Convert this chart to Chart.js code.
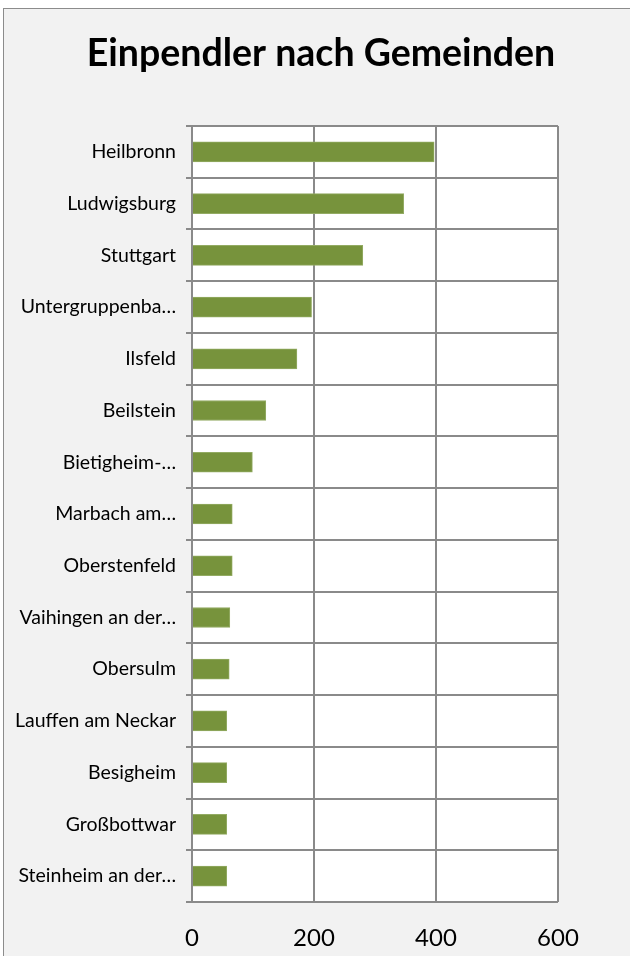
<!DOCTYPE html>
<html>
<head>
<meta charset="utf-8">
<script src="https://cdn.jsdelivr.net/npm/chart.js@4"></script>
<style>
  html, body { margin: 0; padding: 0; background: #ffffff; }
  #frame {
    position: absolute; left: 3px; top: 8px; width: 640px; height: 960px;
    background: #f2f2f2; border: 1.5px solid #8c8c8c; box-sizing: border-box;
  }
  #wrap { position: absolute; left: 0; top: 0; width: 630px; height: 956px; }
</style>
</head>
<body>
<div id="frame"></div>
<div id="wrap"><canvas id="pendlerChart"></canvas></div>
<script>
// Daten
const gemeinden = [
  'Heilbronn', 'Ludwigsburg', 'Stuttgart', 'Untergruppenba…', 'Ilsfeld',
  'Beilstein', 'Bietigheim-…', 'Marbach am…', 'Oberstenfeld', 'Vaihingen an der…',
  'Obersulm', 'Lauffen am Neckar', 'Besigheim', 'Großbottwar', 'Steinheim an der…'
];
const einpendler = [397, 347, 280, 196, 172, 121, 99, 66, 66, 62, 61, 57, 57, 57, 57];
const xTicks = [0, 200, 400, 600];
const titel = 'Einpendler nach Gemeinden';

const gridColor = '#8a8a8a';
const font = 'Lato, "Open Sans", sans-serif';

// weisser Hintergrund der Zeichenflaeche + Titel (mittig auf der ganzen Flaeche)
const plotBackground = {
  id: 'plotBackground',
  beforeDraw(chart) {
    const a = chart.chartArea;
    const c = chart.ctx;
    c.save();
    c.fillStyle = '#ffffff';
    c.fillRect(a.left, a.top, a.right - a.left, a.bottom - a.top);
    c.fillStyle = '#000000';
    c.font = 'bold 37.5px ' + font;
    c.textAlign = 'center';
    c.textBaseline = 'middle';
    c.fillText(titel, 321, 54);
    c.restore();
  }
};

const ctx = document.getElementById('pendlerChart').getContext('2d');
const pendlerChart = new Chart(ctx, {
  type: 'bar',
  data: {
    labels: gemeinden,
    datasets: [{
      data: einpendler,
      backgroundColor: '#77933c',
      borderColor: '#93ab63',
      borderWidth: 1,
      borderSkipped: 'left',
      barThickness: 20
    }]
  },
  options: {
    indexAxis: 'y',
    responsive: true,
    maintainAspectRatio: false,
    animation: false,
    layout: { padding: { left: 0, right: 72, top: 126, bottom: 0 } },
    plugins: {
      legend: { display: false },
      tooltip: { enabled: false },
      title: { display: false }
    },
    scales: {
      x: {
        min: 0,
        max: 600,
        afterBuildTicks(scale) { scale.ticks = xTicks.map(v => ({ value: v })); },
        afterFit(scale) { scale.height = 54; },
        grid: { color: gridColor, lineWidth: 2, drawTicks: false },
        border: { display: false },
        ticks: { color: '#000000', padding: 22, font: { family: font, size: 24 } }
      },
      y: {
        afterFit(scale) { scale.width = 192; },
        grid: { color: gridColor, lineWidth: 2, tickLength: 6, offset: true },
        border: { color: gridColor, width: 2 },
        ticks: { color: '#000000', padding: 10, autoSkip: false, font: { family: font, size: 19.5 } }
      }
    }
  },
  plugins: [plotBackground]
});
</script>
</body>
</html>
